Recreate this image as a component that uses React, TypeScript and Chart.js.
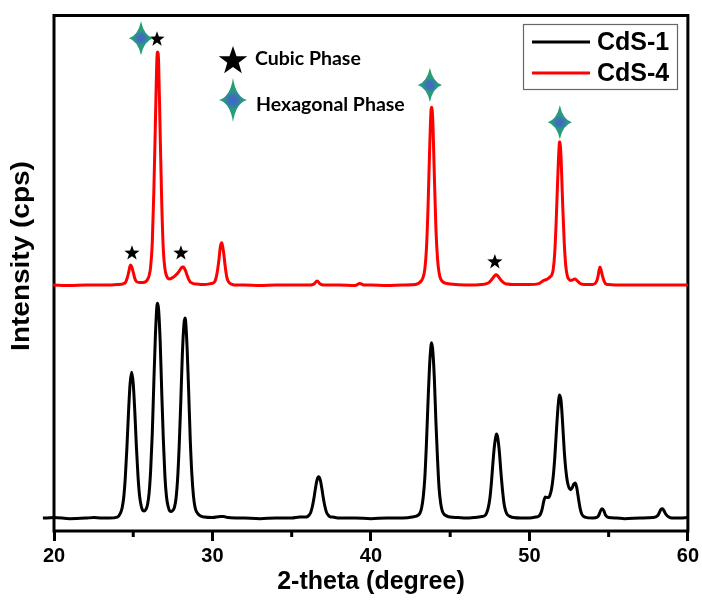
import React, { useEffect, useRef } from 'react';
import { Chart, registerables } from 'chart.js';

Chart.register(...registerables);

// CdS-1 (black) pattern
const cds1Theta = [
  19.3, 20, 21, 22, 22.5, 23, 23.5, 24, 24.2, 24.3, 24.4, 24.5, 24.6, 24.7, 24.8, 24.9, 25.0, 25.1, 25.2, 25.3, 25.4, 25.5,
  25.6, 25.7, 25.8, 25.9, 26.0, 26.1, 26.2, 26.3, 26.4, 26.5, 26.54, 26.6, 26.7, 26.8, 26.9, 27.0, 27.1, 27.2, 27.3, 27.4,
  27.5, 27.6, 27.7, 27.8, 27.9, 28.0, 28.1, 28.2, 28.26, 28.3, 28.4, 28.5, 28.6, 28.7, 28.8, 28.9, 29.0, 29.2, 29.5, 30.0,
  30.5, 30.7, 31.0, 32, 33, 34, 35, 35.5, 35.8, 36.0, 36.1, 36.2, 36.3, 36.4, 36.5, 36.6, 36.7, 36.8, 36.9, 37.0, 37.1,
  37.2, 37.3, 37.4, 37.6, 38, 39, 40, 41, 42, 42.6, 43.0, 43.1, 43.2, 43.3, 43.4, 43.5, 43.6, 43.7, 43.8, 43.83, 43.9,
  44.0, 44.1, 44.2, 44.3, 44.4, 44.5, 44.6, 44.8, 45, 45.5, 46, 46.5, 47.0, 47.2, 47.3, 47.4, 47.5, 47.6, 47.7, 47.8,
  47.9, 47.93, 48.0, 48.1, 48.2, 48.3, 48.4, 48.5, 48.6, 48.8, 49, 49.5, 50, 50.4, 50.6, 50.7, 50.8, 50.9, 51.0, 51.1,
  51.2, 51.3, 51.4, 51.5, 51.6, 51.7, 51.8, 51.9, 52.0, 52.1, 52.2, 52.3, 52.4, 52.5, 52.6, 52.7, 52.8, 52.9, 53.0, 53.1,
  53.2, 53.3, 53.5, 54.0, 54.3, 54.4, 54.5, 54.6, 54.7, 54.8, 55.0, 55.5, 56, 57, 57.8, 58.1, 58.2, 58.3, 58.4, 58.5,
  58.6, 58.8, 59, 59.5, 60,
];
const cds1Counts = [
  25, 26, 24, 25, 26, 25, 25, 27, 35, 45, 65, 104, 161, 229, 285, 308, 286, 231, 163, 107, 68, 49,
  40, 39, 42, 51, 73, 118, 188, 288, 380, 438, 442, 430, 368, 268, 177, 106, 66, 48, 39, 38,
  40, 46, 63, 101, 165, 250, 343, 401, 413, 409, 355, 269, 176, 110, 68, 46, 37, 30, 27, 26,
  28, 28, 26, 25, 24, 25, 25, 27, 27, 28, 31, 36, 47, 63, 83, 99, 105, 99, 83, 63, 47,
  36, 31, 28, 27, 25, 25, 24, 25, 25, 27, 31, 35, 45, 66, 103, 168, 249, 321, 362, 365, 351,
  297, 212, 141, 83, 54, 39, 33, 29, 27, 26, 25, 26, 28, 30, 35, 45, 62, 93, 133, 167,
  186, 188, 181, 155, 115, 80, 53, 39, 32, 28, 26, 25, 25, 27, 29, 33, 42, 57, 66, 65,
  65, 70, 82, 105, 142, 192, 238, 264, 252, 207, 155, 118, 95, 84, 80, 84, 91, 93, 82, 62,
  44, 33, 27, 25, 27, 32, 40, 43, 39, 31, 26, 25, 24, 25, 26, 30, 36, 42, 43, 39,
  33, 27, 25, 25, 26,
];

// CdS-4 (red) pattern
const cds4Theta = [
  19.95, 21, 22, 23, 24, 24.4, 24.5, 24.6, 24.7, 24.8, 24.84, 24.9, 25.0, 25.1, 25.2, 25.4, 25.6, 25.8, 25.9, 26.0, 26.1,
  26.2, 26.3, 26.4, 26.5, 26.54, 26.6, 26.7, 26.8, 26.9, 27.0, 27.1, 27.2, 27.3, 27.4, 27.6, 27.8, 27.9, 28.0, 28.1,
  28.16, 28.2, 28.3, 28.4, 28.5, 28.6, 28.8, 29.0, 29.5, 29.9, 30.1, 30.2, 30.3, 30.4, 30.5, 30.58, 30.6, 30.7, 30.8,
  30.9, 31.0, 31.2, 31.5, 32, 33, 34, 35, 36, 36.4, 36.6, 36.8, 37, 38, 39, 39.3, 39.6, 40, 41, 42, 42.8, 43.2, 43.3,
  43.4, 43.5, 43.6, 43.7, 43.8, 43.83, 43.9, 44.0, 44.1, 44.2, 44.3, 44.4, 44.6, 44.8, 45, 46, 47, 47.4, 47.6, 47.8,
  47.9, 48.0, 48.2, 48.4, 48.6, 49, 50, 50.6, 50.8, 51.0, 51.2, 51.3, 51.4, 51.5, 51.6, 51.7, 51.8, 51.9, 51.92, 52.0,
  52.1, 52.2, 52.3, 52.4, 52.5, 52.6, 52.8, 52.9, 53.0, 53.2, 53.5, 54.0, 54.2, 54.3, 54.4, 54.45, 54.5, 54.6, 54.7,
  54.8, 55, 56, 57, 58, 59, 60,
];
const cds4Counts = [
  477, 476, 477, 477, 478, 480, 482, 489, 500, 514, 516, 513, 502, 490, 484, 482, 482, 484, 488, 495, 513,
  558, 658, 793, 920, 929, 911, 771, 635, 545, 509, 495, 490, 489, 490, 494, 500, 504, 509, 512,
  512, 511, 505, 496, 488, 483, 480, 479, 478, 480, 482, 488, 502, 524, 552, 559, 558, 541, 514,
  493, 484, 479, 477, 477, 476, 477, 477, 477, 479, 485, 479, 477, 477, 476, 480, 477, 477, 476, 477, 478, 486, 493,
  508, 546, 625, 736, 819, 822, 798, 691, 587, 529, 501, 489, 482, 480, 479, 477, 478, 481, 487, 495,
  497, 495, 487, 481, 479, 478, 478, 480, 484, 487, 490, 493, 496, 507, 540, 609, 695, 754, 755, 722,
  633, 558, 513, 494, 488, 486, 488, 489, 486, 480, 478, 478, 482, 490, 506, 512, 509, 496, 486,
  480, 478, 477, 477, 477, 477, 477,
];

const seriesNames = ['CdS-1', 'CdS-4'];
const seriesColors = ['#000000', '#ff0000'];
const xMajorTicks = [20, 30, 40, 50, 60];
const xMinorTicks = [25, 35, 45, 55];
const phaseNames = ['Cubic Phase', 'Hexagonal Phase'];
const cubicMarkTheta = [24.92, 26.5, 28.01, 47.82];
const cubicMarkY = [539, 954, 539, 522];
const hexMarkTheta = [25.49, 43.72, 51.92];
const hexMarkY = [956, 865, 793];
const xTitle = '2-theta (degree)';
const yTitle = 'Intensity (cps)';

const FONT = "'Liberation Sans', Arial, sans-serif";

function star5(ctx: CanvasRenderingContext2D, cx: number, cy: number, R: number) {
  const r = R * 0.4;
  ctx.beginPath();
  for (let i = 0; i < 10; i++) {
    const rad = i % 2 === 0 ? R : r;
    const a = -Math.PI / 2 + (i * Math.PI) / 5;
    ctx.lineTo(cx + rad * Math.cos(a), cy + rad * Math.sin(a));
  }
  ctx.closePath();
  ctx.fillStyle = '#000';
  ctx.fill();
}

function star4(ctx: CanvasRenderingContext2D, cx: number, cy: number, h: number, v: number) {
  const k = 3;
  const g = ctx.createRadialGradient(cx, cy, 0, cx, cy, v);
  g.addColorStop(0, '#4466c6');
  g.addColorStop(0.22, '#3b74b4');
  g.addColorStop(0.42, '#2a9a80');
  g.addColorStop(1, '#17a65c');
  ctx.beginPath();
  ctx.moveTo(cx, cy - v);
  ctx.quadraticCurveTo(cx + k, cy - k, cx + h, cy);
  ctx.quadraticCurveTo(cx + k, cy + k, cx, cy + v);
  ctx.quadraticCurveTo(cx - k, cy + k, cx - h, cy);
  ctx.quadraticCurveTo(cx - k, cy - k, cx, cy - v);
  ctx.closePath();
  ctx.fillStyle = g;
  ctx.fill();
}

const decorPlugin = {
  id: 'decor',
  beforeDatasetsDraw(chart: any) {
    const { ctx, chartArea: a, scales } = chart;
    ctx.save();
    ctx.strokeStyle = '#000';
    ctx.lineWidth = 3;
    ctx.strokeRect(a.left, a.top, a.right - a.left, a.bottom - a.top);
    ctx.beginPath();
    xMinorTicks.forEach((v) => {
      const px = scales.x.getPixelForValue(v);
      ctx.moveTo(px, a.bottom);
      ctx.lineTo(px, a.bottom + 6);
    });
    ctx.stroke();
    ctx.restore();
  },
  afterDraw(chart: any) {
    const { ctx, chartArea: a, scales } = chart;
    const xs = scales.x;
    const ys = scales.y;
    ctx.save();
    // peak markers
    cubicMarkTheta.forEach((t, i) => star5(ctx, xs.getPixelForValue(t), ys.getPixelForValue(cubicMarkY[i]), 8));
    hexMarkTheta.forEach((t, i) => star4(ctx, xs.getPixelForValue(t), ys.getPixelForValue(hexMarkY[i]), 12, 17));
    // phase key
    star5(ctx, 233, 61, 15);
    star4(ctx, 233, 100, 14, 22);
    ctx.fillStyle = '#000';
    ctx.font = "bold 19.5px Lato, 'Open Sans', sans-serif";
    ctx.textBaseline = 'middle';
    ctx.textAlign = 'left';
    ctx.fillText(phaseNames[0], 255, 59);
    ctx.fillText(phaseNames[1], 256, 105);
    // legend box
    ctx.strokeStyle = '#666';
    ctx.lineWidth = 1.2;
    ctx.strokeRect(523.5, 24.5, 154, 65);
    const rows = [42, 73];
    ctx.font = `bold 25px ${FONT}`;
    seriesNames.forEach((n, i) => {
      ctx.strokeStyle = seriesColors[i];
      ctx.lineWidth = 3;
      ctx.beginPath();
      ctx.moveTo(532, rows[i]);
      ctx.lineTo(590, rows[i]);
      ctx.stroke();
      ctx.fillStyle = '#000';
      ctx.fillText(n, 597, rows[i] + 1);
    });
    // axis titles
    ctx.font = `bold 25px ${FONT}`;
    ctx.textAlign = 'center';
    ctx.fillText(xTitle, (a.left + a.right) / 2, 582);
    ctx.translate(22, 256);
    ctx.rotate(-Math.PI / 2);
    ctx.scale(1.12, 1);
    ctx.fillText(yTitle, 0, 0);
    ctx.restore();
  },
};

export default function App() {
  const ref = useRef<HTMLCanvasElement | null>(null);
  useEffect(() => {
    if (!ref.current) return;
    const chart = new Chart(ref.current, {
      type: 'line',
      data: {
        datasets: [
          {
            label: seriesNames[0],
            data: cds1Theta.map((t, i) => ({ x: t, y: cds1Counts[i] })),
            borderColor: seriesColors[0],
            borderWidth: 3,
            pointRadius: 0,
            cubicInterpolationMode: 'monotone',
            clip: false as any,
          },
          {
            label: seriesNames[1],
            data: cds4Theta.map((t, i) => ({ x: t, y: cds4Counts[i] })),
            borderColor: seriesColors[1],
            borderWidth: 3,
            pointRadius: 0,
            cubicInterpolationMode: 'monotone',
            clip: false as any,
          },
        ],
      },
      options: {
        animation: false,
        responsive: false,
        devicePixelRatio: 1,
        events: [],
        layout: { padding: { top: 15.5, right: 14, left: 0, bottom: 0 } },
        plugins: { legend: { display: false }, tooltip: { enabled: false } },
        scales: {
          x: {
            type: 'linear',
            min: 20,
            max: 60,
            afterBuildTicks: (s: any) => {
              s.ticks = xMajorTicks.map((v) => ({ value: v }));
            },
            ticks: {
              color: '#000',
              font: { family: FONT, weight: 'bold', size: 20 },
              padding: 3,
              maxRotation: 0,
              autoSkip: false,
            },
            grid: { drawOnChartArea: false, drawTicks: true, tickLength: 10, tickWidth: 3, tickColor: '#000' },
            border: { display: false },
            afterFit: (s: any) => {
              s.height = 75;
            },
          },
          y: {
            type: 'linear',
            min: 0,
            max: 1000,
            ticks: { display: false },
            grid: { display: false },
            border: { display: false },
            afterFit: (s: any) => {
              s.width = 54;
            },
          },
        },
      },
      plugins: [decorPlugin],
    } as any);
    return () => chart.destroy();
  }, []);
  return (
    <div style={{ position: 'absolute', left: 0, top: 0, width: 702, height: 606, background: '#fff' }}>
      <canvas ref={ref} width={702} height={606} style={{ display: 'block' }} />
    </div>
  );
}
